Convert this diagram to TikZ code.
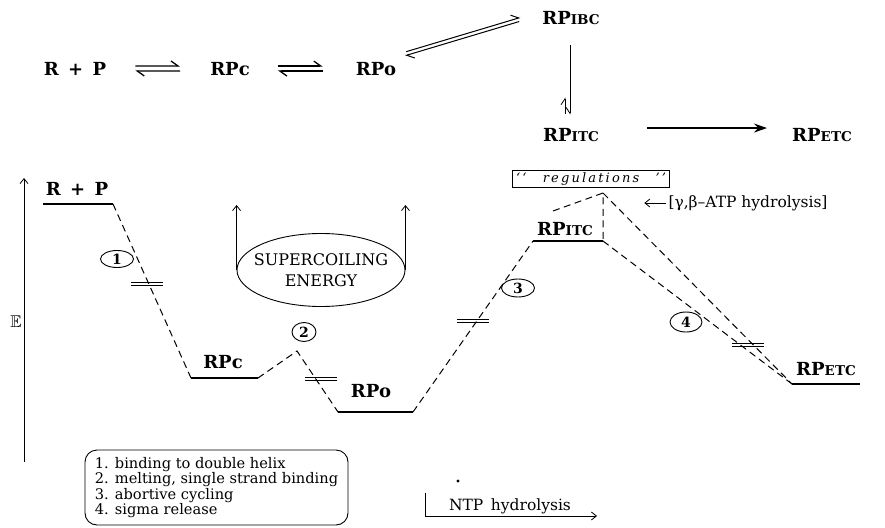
\documentclass[tikz,border=0pt]{standalone}
\usepackage{amssymb}
\usepackage{fontspec}
\setmainfont{DejaVu Serif}
\usetikzlibrary{arrows.meta,shapes.geometric}

\newcommand{\smc}[1]{{\fontsize{13.5}{13.5}\selectfont #1}}

\begin{document}
\begin{tikzpicture}[x=1pt,y=-1pt,
  >={Straight Barb[length=5pt,width=8pt]},
  species/.style={font=\fontsize{18}{20}\selectfont\bfseries, inner sep=0pt, anchor=base},
  level/.style={line width=1.4pt},
  trace/.style={line width=1pt, dash pattern=on 7pt off 4.5pt},
  stepnum/.style={draw, ellipse, line width=0.9pt, inner sep=0pt, font=\fontsize{14}{14}\selectfont\bfseries},
  harp/.style={line width=1.3pt, -{Straight Barb[left,length=7pt,width=10pt]}},
  brk/.pic={\draw[line width=0.9pt] (-16,-1.8) -- (16,-1.8) (-16,1.8) -- (16,1.8);}]
\useasboundingbox (0,0) rectangle (885,527);

% reaction scheme
\node (rp) [species] at (75,75) {R\ \,+\ \,P};
\node (rpc) [species] at (230,75) {RPc};
\node (rpo) [species] at (376,75) {RPo};
\node (rpibc) [species] at (571,25) {RP\smc{IBC}};
\node (rpitc) [species] at (571,141) {RP\smc{ITC}};
\node (rpetc) [species] at (822,141) {RP\smc{ETC}};

\draw [harp, shorten <=29, shorten >=30] ([yshift=2.5]rp.east) -- ([yshift=2.5]rpc.west);
\draw [harp, shorten <=30, shorten >=29] ([yshift=-2.5]rpc.west) -- ([yshift=-2.5]rp.east);
\draw [harp, shorten <=28, shorten >=33] ([yshift=2.5]rpc.east) -- ([yshift=2.5]rpo.west);
\draw [harp, shorten <=33, shorten >=28] ([yshift=-2.5]rpo.west) -- ([yshift=-2.5]rpc.east);
\draw [harp, line width=1pt] ([xshift=10,yshift=10]rpo.north east) -- ([xshift=-22,yshift=1]rpibc.west);
\draw [harp, line width=1pt] ([xshift=-23,yshift=-3]rpibc.west) -- ([xshift=9,yshift=6]rpo.north east);
\draw [line width=0.8pt, -{Straight Barb[right,length=6pt,width=8pt]}, shorten <=20, shorten >=13] ([xshift=-1]rpibc.south) -- ([xshift=-1]rpitc.north);
\draw [line width=0.8pt, -{Straight Barb[left,length=6pt,width=8pt]}, shorten <=14, shorten >=72] ([xshift=-6]rpitc.north) -- ([xshift=-6]rpibc.south);
\draw [line width=1.2pt, -{Stealth[length=13pt,width=9pt]}, shorten <=48, shorten >=25] ([yshift=6.5]rpitc.east) -- ([yshift=6.5]rpetc.west);

% energy axis
\node (e) [font=\fontsize{17}{17}\selectfont] at (16,322) {$\mathbb{E}$};
\coordinate (ebot) at (24,462);
\coordinate (etop) at (24,178);
\draw [->, line width=0.8pt] (ebot) -- (etop);

% levels
\coordinate (l1a) at (43,204); \coordinate (l1b) at (113,204);
\coordinate (l2a) at (191,378); \coordinate (l2b) at (258,378);
\coordinate (l3a) at (338,412); \coordinate (l3b) at (413,412);
\coordinate (l4a) at (533,241); \coordinate (l4b) at (603,241);
\coordinate (l5a) at (792,384); \coordinate (l5b) at (860,384);
\coordinate (top2) at (297,351);
\coordinate (topR) at (603,193);
\coordinate (regin) at (553,211);

\draw [level] (l1a) -- (l1b);
\draw [level] (l2a) -- (l2b);
\draw [level] (l3a) -- (l3b);
\draw [level] (l4a) -- (l4b);
\draw [level] (l5a) -- (l5b);

\node (erp) [species] at (77,195) {R\ \,+\ \,P};
\node (erpc) [species] at (223,368) {RPc};
\node (erpo) [species] at (371,397) {RPo};
\node (erpitc) [species] at (565,235) {RP\smc{ITC}};
\node (erpetc) [species] at (826,375) {RP\smc{ETC}};

\draw [trace] (l1b) -- (l2a);
\draw [trace] (l2b) -- (top2) -- (l3a);
\draw [trace] (l3b) -- (l4a);
\draw [trace] (regin) -- (topR) -- (l4b);
\draw [trace] (l4b) -- (l5a);
\draw [trace] (topR) -- (l5a);

\pic at (147,284) {brk};
\pic at (321,379) {brk};
\pic at (473,321) {brk};
\pic at (748,345) {brk};

\node (s1) [stepnum, minimum width=33, minimum height=17] at (117,259) {1};
\node (s2) [stepnum, minimum width=24, minimum height=19] at (304,332) {2};
\node (s3) [stepnum, minimum width=33, minimum height=18] at (518,288) {3};
\node (s4) [stepnum, minimum width=32, minimum height=20] at (686,322) {4};

% supercoiling
\node (sc) [draw, ellipse, line width=0.9pt, inner xsep=-8pt, inner ysep=0pt, minimum width=168, minimum height=73,
  align=center, font=\fontsize{16}{21}\selectfont] at (321,270) {SUPERCOILING\\ENERGY};
\draw [->, line width=0.8pt] (sc.west) -- ++(0,-65);
\draw [->, line width=0.8pt] (sc.east) -- ++(0,-65);

% regulations
\node (reg) [draw, line width=0.9pt, minimum width=157, minimum height=17, inner sep=0pt,
  font=\fontsize{13}{13}\selectfont\itshape] at (591,179)
  {\makebox[150pt]{`\,`\hfill r\,e\,g\,u\,l\,a\,t\,i\,o\,n\,s\hfill '\,'}};
\node (atp) [font=\fontsize{15.5}{15.5}\selectfont, inner sep=0pt] at (748,203) {[γ,β–ATP hydrolysis]};
\draw [->, line width=0.8pt, shorten <=2] (atp.west) -- ++(-24,0);

% legend
\node (legend) [draw, line width=0.9pt, rounded corners=12pt, align=left, minimum width=263, minimum height=75,
  font=\fontsize{14.6}{14.3}\selectfont] at (216.5,487.5)
  {1. binding to double helix\\2. melting, single strand binding\\3. abortive cycling\\4. sigma release};

% NTP
\fill (458,481) circle (1.6);
\node (ntp) [font=\fontsize{15.5}{15.5}\selectfont] at (510,506) {NTP\ \,hydrolysis};
\coordinate (ntpa) at (425,493);
\coordinate (ntpb) at (597,516);
\draw [->, line width=0.8pt] (ntpa) |- (ntpb);
\end{tikzpicture}
\end{document}
